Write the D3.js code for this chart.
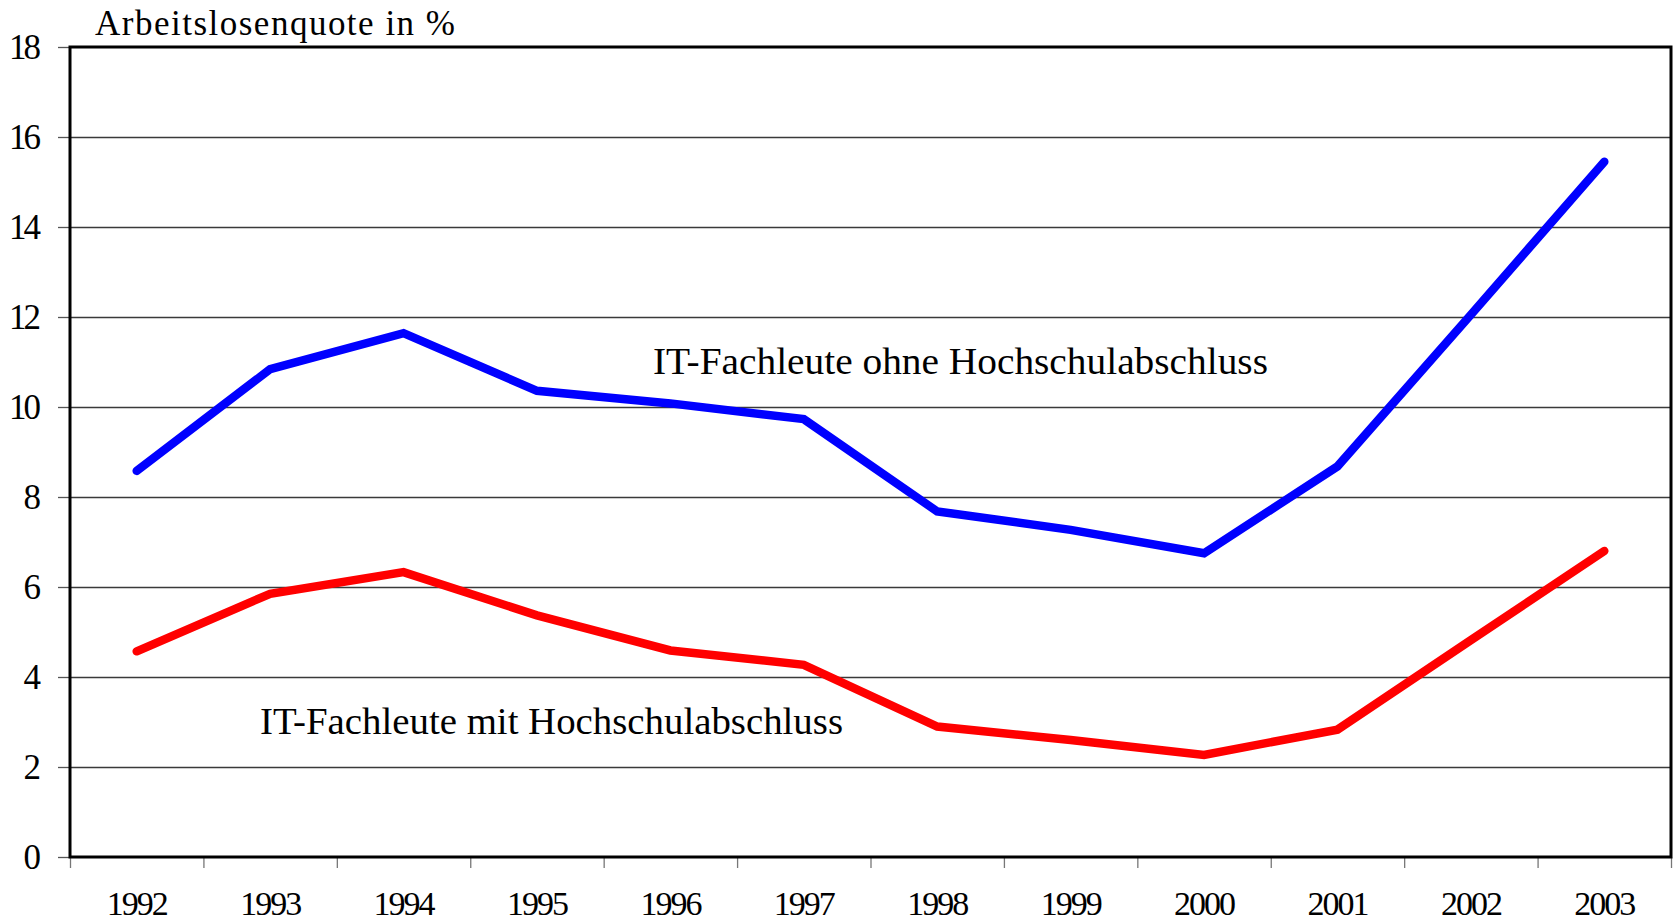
<!DOCTYPE html>
<html>
<head>
<meta charset="utf-8">
<script src="https://cdn.jsdelivr.net/npm/d3@7"></script>
<style>
  html, body { margin: 0; padding: 0; background: #fff; }
  svg { display: block; }
  text { font-family: "Liberation Serif", "Times New Roman", serif; fill: #000; }
</style>
</head>
<body>
<svg id="chart"></svg>
<script>
/* ---------- data ---------- */
const years = ["1992", "1993", "1994", "1995", "1996", "1997", "1998", "1999", "2000", "2001", "2002", "2003"];
const ohneAbschluss = [8.58, 10.84, 11.64, 10.36, 10.08, 9.73, 7.68, 7.27, 6.75, 8.68, 12.05, 15.45];
const mitAbschluss = [4.57, 5.85, 6.33, 5.37, 4.59, 4.27, 2.90, 2.60, 2.27, 2.83, 4.82, 6.80];
const yTicks = [0, 2, 4, 6, 8, 10, 12, 14, 16, 18];
const yTitle = "Arbeitslosenquote in %";
const labelOhne = "IT-Fachleute ohne Hochschulabschluss";
const labelMit = "IT-Fachleute mit Hochschulabschluss";

/* ---------- layout ---------- */
const W = 1674, H = 924;
const plotLeft = 70, plotRight = 1671, plotTop = 47, plotBottom = 857;

const svg = d3.select("#chart").attr("width", W).attr("height", H);

const x = d3.scaleBand().domain(years).range([plotLeft, plotRight]).padding(0);
const xEdge = d3.scaleLinear().domain([0, years.length]).range([plotLeft, plotRight]);
const y = d3.scaleLinear().domain([0, 18]).range([plotBottom, plotTop]);
const cx = d => x(d) + x.bandwidth() / 2;

// horizontal grid lines
svg.append("g")
  .attr("transform", `translate(${plotLeft},0)`)
  .call(d3.axisLeft(y).tickValues(yTicks.slice(1, -1)).tickSize(-(plotRight - plotLeft)).tickFormat(""))
  .call(g => g.select(".domain").remove())
  .call(g => g.selectAll("line").attr("stroke", "#3a3a3a").attr("stroke-width", 1.5));

// y axis ticks + labels
svg.append("g")
  .attr("transform", `translate(${plotLeft},0)`)
  .call(d3.axisLeft(y).tickValues(yTicks).tickSize(12).tickPadding(20).tickFormat(d3.format("d")))
  .call(g => g.select(".domain").remove())
  .call(g => g.selectAll("line").attr("stroke", "#555").attr("stroke-width", 1.3))
  .call(g => g.selectAll("text")
    .attr("font-family", "Liberation Serif, Times New Roman, serif")
    .attr("font-size", 35)
    .attr("letter-spacing", -3)
    .attr("fill", "#000"));

// x axis tick marks at band boundaries
svg.append("g")
  .attr("transform", `translate(0,${plotBottom})`)
  .call(d3.axisBottom(xEdge).ticks(years.length).tickSize(11).tickFormat(""))
  .call(g => g.select(".domain").remove())
  .call(g => g.selectAll("line").attr("stroke", "#777").attr("stroke-width", 1.3));

// x axis labels
svg.append("g")
  .attr("transform", `translate(0,${plotBottom})`)
  .call(d3.axisBottom(x).tickSize(0).tickPadding(0))
  .call(g => g.select(".domain").remove())
  .call(g => g.selectAll("text")
    .attr("dy", null)
    .attr("y", 58)
    .attr("font-family", "Liberation Serif, Times New Roman, serif")
    .attr("font-size", 34)
    .attr("letter-spacing", -2)
    .attr("fill", "#000"));

// plot frame
svg.append("rect")
  .attr("x", plotLeft).attr("y", plotTop)
  .attr("width", plotRight - plotLeft).attr("height", plotBottom - plotTop)
  .attr("fill", "none").attr("stroke", "#000").attr("stroke-width", 3);

// lines
const line = d3.line().x((d, i) => cx(years[i])).y(d => y(d));

svg.append("path")
  .datum(mitAbschluss)
  .attr("d", line)
  .attr("fill", "none").attr("stroke", "#ff0000")
  .attr("stroke-width", 8.5).attr("stroke-linecap", "round").attr("stroke-linejoin", "miter");

svg.append("path")
  .datum(ohneAbschluss)
  .attr("d", line)
  .attr("fill", "none").attr("stroke", "#0000ff")
  .attr("stroke-width", 8.5).attr("stroke-linecap", "round").attr("stroke-linejoin", "miter");

// texts
svg.append("text")
  .attr("x", 95).attr("y", 35)
  .attr("font-size", 35)
  .attr("textLength", 360).attr("lengthAdjust", "spacing")
  .text(yTitle);

svg.append("text")
  .attr("x", 653).attr("y", 374)
  .attr("font-size", 37)
  .attr("textLength", 615).attr("lengthAdjust", "spacingAndGlyphs")
  .text(labelOhne);

svg.append("text")
  .attr("x", 260).attr("y", 734)
  .attr("font-size", 37)
  .attr("textLength", 583).attr("lengthAdjust", "spacingAndGlyphs")
  .text(labelMit);
</script>
</body>
</html>
